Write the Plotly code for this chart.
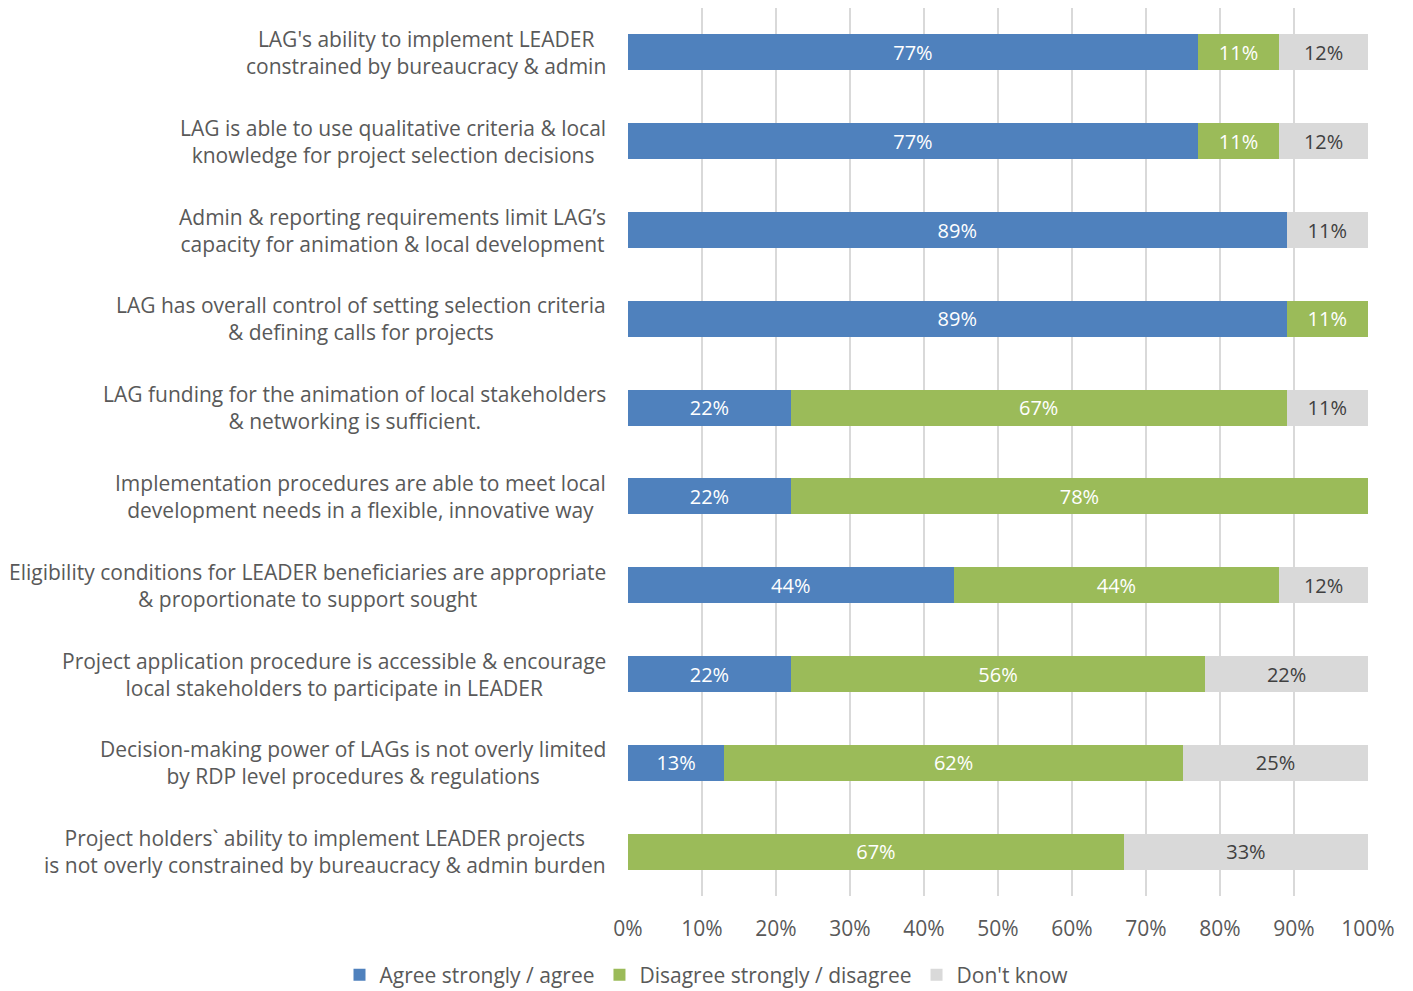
import plotly.graph_objects as go

# Survey statements (top to bottom) and share of responses per answer group
statements = [
    "LAG's ability to implement LEADER<br>constrained by bureaucracy & admin",
    "LAG is able to use qualitative criteria & local<br>knowledge for project selection decisions",
    "Admin & reporting requirements limit LAG’s<br>capacity for animation & local development",
    "LAG has overall control of setting selection criteria<br>& defining calls for projects",
    "LAG funding for the animation of local stakeholders<br>& networking is sufficient.",
    "Implementation procedures are able to meet local<br>development needs in a flexible, innovative way",
    "Eligibility conditions for LEADER beneficiaries are appropriate<br>& proportionate to support sought",
    "Project application procedure is accessible & encourage<br>local stakeholders to participate in LEADER",
    "Decision-making power of LAGs is not overly limited<br>by RDP level procedures & regulations",
    "Project holders` ability to implement LEADER projects<br>is not overly constrained by bureaucracy & admin burden",
]
agree = [77, 77, 89, 89, 22, 22, 44, 22, 13, 0]
disagree = [11, 11, 0, 11, 67, 78, 44, 56, 62, 67]
dont_know = [12, 12, 11, 0, 11, 0, 12, 22, 25, 33]

x_ticks = [0, 10, 20, 30, 40, 50, 60, 70, 80, 90, 100]

FONT = "Open Sans"
TEXT_GREY = "#595959"

series = [
    ("Agree strongly / agree", agree, "#4F81BD", "white"),
    ("Disagree strongly / disagree", disagree, "#9BBB59", "white"),
    ("Don't know", dont_know, "#D9D9D9", "#404040"),
]

rows = list(range(len(statements)))

fig = go.Figure()
for name, values, color, label_color in series:
    fig.add_trace(go.Bar(
        name=name,
        orientation="h",
        y=rows,
        x=values,
        marker=dict(color=color, line=dict(width=0)),
        width=0.405,
        text=[f"{v}%" if v else "" for v in values],
        textposition="inside",
        insidetextanchor="middle",
        textangle=0,
        textfont=dict(family=FONT, size=20, color=label_color),
        hoverinfo="skip",
    ))

# Category labels: centred multi-line blocks, right-aligned against the plot
for i, label in enumerate(statements):
    fig.add_annotation(
        x=0, xref="paper", y=i, yref="y",
        text=label, showarrow=False,
        xanchor="right", yanchor="middle", align="center",
        xshift=-20,
        font=dict(family=FONT, size=21, color=TEXT_GREY),
    )

fig.update_layout(
    barmode="stack",
    width=1413, height=991,
    margin=dict(l=628, r=45, t=8, b=95),
    paper_bgcolor="white",
    plot_bgcolor="white",
    font=dict(family=FONT, size=20, color=TEXT_GREY),
    uniformtext=dict(minsize=20, mode="show"),
    showlegend=True,
    legend=dict(
        orientation="h",
        traceorder="normal",
        xref="container", yref="container",
        x=0.5, xanchor="center",
        y=0.016, yanchor="middle",
        font=dict(family=FONT, size=21, color=TEXT_GREY),
        itemwidth=30,
        tracegroupgap=0,
    ),
    xaxis=dict(
        range=[0, 100],
        tickvals=x_ticks,
        ticktext=[f"{t}%" for t in x_ticks],
        showgrid=True, gridcolor="#D9D9D9", gridwidth=1.5,
        zeroline=False,
        showline=False,
        ticks="outside", ticklen=14, tickcolor="rgba(0,0,0,0)",
        tickfont=dict(family=FONT, size=21, color=TEXT_GREY),
        fixedrange=True,
    ),
    yaxis=dict(
        range=[len(statements) - 0.5, -0.5],
        showticklabels=False,
        showgrid=False, zeroline=False, showline=False,
        fixedrange=True,
    ),
)

fig.write_html("out.html")
